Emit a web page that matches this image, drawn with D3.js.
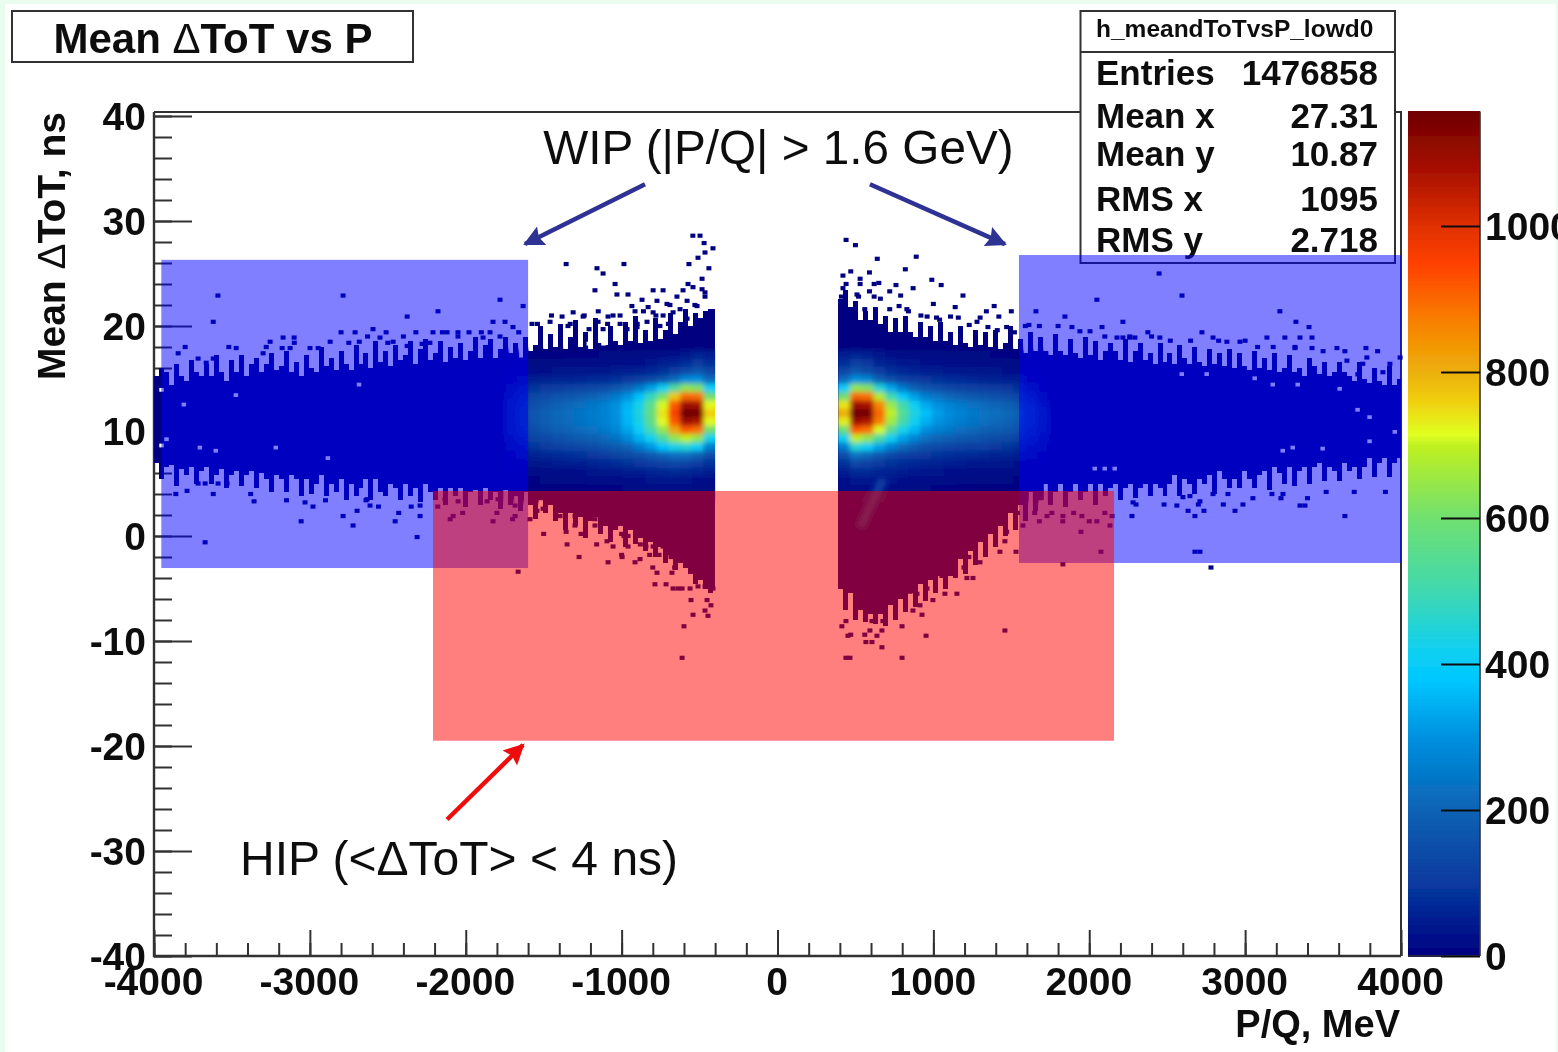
<!DOCTYPE html>
<html>
<head>
<meta charset="utf-8">
<title>Mean dToT vs P</title>
<script src="https://cdn.jsdelivr.net/npm/d3@7"></script>
<style>
  html, body { margin: 0; padding: 0; background: #e9fcf0; overflow: hidden; }
  text { font-family: "Liberation Sans", Arial, sans-serif; fill: #111; }
  .bold text, text.bold { font-weight: bold; }
  .domain { display: none; }
</style>
</head>
<body>
<svg id="chart" width="1558" height="1052"></svg>
<script>
// histogram binning, MeV and ns
const binWidthP = 32;
const binHeightT = 0.4;
const startNeg = -4000;
const startPos = 390;
const endNeg = -400;
const endPos = 4000;

// solid band per P bin: top and bottom edge in ns
const topNeg = [15.2,16,15.6,14.4,16.4,15.2,14.8,16.8,15.6,15.2,
  16.4,15.2,17.2,15.6,14.8,16.8,15.6,17.2,15.2,16.4,
  17,15.6,16.4,17.4,15.8,16.2,17.6,15.6,16.6,15.2,
  17.2,16,15.6,18,16.2,17,15.8,17.6,16.4,15.8,
  18.2,16.4,17.4,16,18.6,16.6,17.6,16.2,18.2,16.8,
  17.2,18.6,16.4,17.8,18.8,16.8,17.4,18.6,16.6,18,
  17,18.4,16.8,17.6,19,17,18.2,18.8,17,17.8,
  19,17.4,18.4,17,19,17.6,18.2,20,17.8,19.2,
  18,20.2,17.8,19,20.6,18,19.4,17.8,20.8,18.4,
  18.2,20,18.6,18.2,20.4,18.6,21,18.4,19.6,18.6,
  20.8,18.8,19.6,21.2,19.2,20.4,21.6,20,21.2,20.8,
  21.4,21.6,21.6];
const bottomNeg = [7,5.4,6.6,6.8,4.8,6.4,5.8,6.6,5,6.2,
  6.6,5,5.8,6.4,4.6,5.8,6.2,4.8,5.8,6.2,
  4.6,6,5.4,4.2,5.8,5.4,4.2,5.8,5.4,3.8,
  5.4,4,5,5.8,3.8,5,4.2,5.4,3.4,5,
  3.8,4.6,5.4,3.4,5.4,4.2,3.8,5,4.6,3.4,
  5,3.8,4.6,3.2,5,4.2,3.4,4.6,3,4.6,
  3.8,4.6,2.8,4.2,4.4,3,4.6,3.4,4.2,2.6,
  4.4,3,3.8,2.4,4.2,3,1.6,3.4,2.2,3,
  1.4,2.2,.6,2.2,1,1.8,-.2,1.4,1.8,.2,
  1,-.6,.6,1,-1,.6,-.8,-.2,-1.4,-.6,
  -2,-1,-2.6,-1.8,-3.2,-2.6,-3,-3.6,-4.6,-4.2,
  -5,-5.4,-5];
const topPos = [22.6,23.4,21.8,22.4,20.6,21.4,20.6,21.8,20.2,21,
  19.4,20.8,19.4,21,19.4,19,20.4,19,20,18.6,
  20.4,18.6,19.4,18.2,20,18.4,18,19.6,18.2,19.4,
  18,19.6,17.8,18.4,20,17.8,18.8,17.4,19.4,17.6,
  19,17.6,17.2,19.2,17.6,17.2,18.8,17.4,17,19,
  17.2,18.6,16.8,17.6,18.4,17.6,16.8,18.8,16.6,17.6,
  18.4,16.8,17.4,16.4,18.4,16.6,17.4,16.4,18.2,17,
  16.4,18,16.6,16.2,17.8,16.4,17.4,16.2,17.8,16,
  17.4,16.2,15.8,17.6,16,17,15.8,17.4,15.6,16,
  17.2,15.6,16,15.2,17,16.2,15.4,16.6,15.2,15.6,
  16.6,15.6,15.2,14.8,16.6,15,14.6,16,14.8,14.4,
  16.2,14.4,15];
const bottomPos = [-5,-7,-5.4,-8,-7,-8.2,-7.4,-8.4,-7.4,-8.6,
  -6.6,-8,-6,-7.2,-5.4,-6.8,-4.6,-6.2,-4.2,-5.4,
  -3.8,-5,-3.8,-4,-2.2,-3.6,-1.4,-2.8,-.6,-2,
  .2,-1,1,0,2.2,.6,3,1.4,4.2,2.4,
  3.4,5,3,4.2,5,2.8,4.2,5,3.4,4.2,
  5,3,5,3.8,4.6,5,3.4,4.6,5,3.6,
  4.6,5,3.8,5,4.6,3.8,5,5.8,3.8,5.4,
  5,4,5.4,5,5.8,4,6.2,5.4,4.6,5.4,
  4.6,6.2,5.4,4.6,5.8,6.2,4.4,6.6,6,5,
  6.6,4.8,6.2,6.6,5,6.6,7,5.2,6.6,6.2,
  5.2,7,6.2,6.6,5.4,6.6,7.4,5.6,7,7.4,
  5.6,7,7.4];

// bin contents near the peak, rows are ns, columns are P
const densityRows = [17.3,16.5,15.7,14.9,14.1,13.3,12.5,11.7,10.9,10.1,9.3,8.5,7.7,6.9,6.1,5.3,4.5,3.7];
const densityColsNeg = [-1750,-1675,-1600,-1525,-1450,-1375,-1300,-1225,-1150,-1075,-1000,-925,-850,-775,-700,-625,-550,-475];
const densityColsPos = [390,465,540,615,690,765,840,915,990,1065,1140,1215,1290,1365,1440,1515,1590,1665];
const densityNeg = [
  [5,5,8,8,8,10,10,10,12,12,14,16,20,24,30,40,60,50],
  [8,10,14,16,16,18,18,20,22,24,26,30,36,44,55,75,100,80],
  [14,20,28,30,32,34,36,38,40,44,50,56,66,82,110,140,170,130],
  [24,36,52,56,60,62,66,70,76,84,96,112,135,170,220,290,300,220],
  [40,64,90,100,110,116,124,132,145,170,205,250,320,410,530,640,620,400],
  [58,90,130,145,160,172,185,200,220,250,300,370,480,610,770,900,890,600],
  [72,110,155,175,195,212,228,245,265,295,350,430,560,710,920,1090,1080,720],
  [80,120,170,190,210,225,240,255,270,300,360,440,580,740,960,1160,1150,760],
  [78,118,168,188,208,222,238,252,268,296,355,435,565,720,920,1090,1070,720],
  [70,105,150,172,190,205,220,235,250,278,330,400,510,640,810,920,890,600],
  [56,85,124,140,155,168,182,196,212,238,285,345,420,520,640,700,640,420],
  [40,62,90,102,115,124,135,148,160,180,205,255,310,375,430,450,400,260],
  [26,40,58,66,74,80,88,96,106,120,135,155,180,205,230,230,200,150],
  [15,24,34,40,44,48,52,58,64,72,82,94,108,120,130,125,110,85],
  [8,14,18,22,24,26,30,32,36,40,46,52,60,66,70,66,60,50],
  [5,7,10,12,14,14,16,18,20,22,24,28,32,34,36,34,30,26],
  [2,3,5,6,6,7,8,8,9,10,12,14,16,16,18,16,15,12],
  [1,2,2,3,3,4,4,4,5,5,6,7,8,8,8,8,7,6]
];
const densityPos = [
  [50,60,50,35,28,22,20,18,16,14,14,12,12,10,10,9,8,4],
  [80,110,95,62,48,38,32,30,28,26,24,22,20,18,18,16,12,6],
  [130,170,145,105,84,68,58,52,46,42,38,36,34,32,30,28,18,10],
  [220,300,280,200,150,122,105,95,85,76,70,65,62,58,54,50,30,18],
  [400,640,620,450,330,250,200,165,148,132,122,114,108,102,95,84,50,28],
  [600,900,890,680,500,390,320,260,235,210,190,178,168,155,142,125,85,42],
  [740,1090,1080,860,650,510,415,335,300,270,250,232,218,205,190,168,115,60],
  [800,1160,1150,900,700,540,440,370,320,290,270,250,235,225,210,190,125,75],
  [730,1090,1070,870,660,515,420,345,305,280,260,240,228,215,205,180,122,72],
  [590,920,890,710,550,430,355,295,265,245,225,210,198,188,175,158,108,64],
  [420,700,640,520,410,325,275,225,205,190,175,165,155,145,135,122,84,50],
  [260,450,400,330,265,215,180,152,140,128,118,110,104,98,90,80,56,34],
  [150,235,210,170,140,118,105,95,88,80,74,70,64,60,56,50,34,20],
  [85,130,118,100,85,74,66,60,56,50,46,42,40,36,34,30,20,12],
  [50,75,70,62,56,48,42,38,34,30,28,26,24,22,20,18,12,6],
  [30,42,42,40,36,30,26,22,20,18,16,14,14,12,12,10,6,4],
  [18,22,26,26,22,18,14,12,10,10,8,8,7,6,6,5,3,2],
  [10,14,20,20,14,10,8,6,6,5,5,4,4,3,3,3,2,1]
];

// faint diagonal streak under the red box, [P, ns]
const streakPoints = [[530,0.8],[600,3],[680,5.5]];
const streakCount = 120;

// single filled bins away from the band, [P, ns]
const straysNeg = [[-3590,22.9],[-2787,22.9],[-3620,20.4],[-2376,20.9],[-2178,21.4],[-1780,22.5],[-1632,21.9],[-1825,20.4],[-1748,20.4],[-1697,19.9],
  [-2710,19.4],[-2595,19.7],[-2511,19.4],[-2210,19.4],[-2120,19.4],[-2050,19.4],[-1979,19.4],[-1844,19.4],[-3172,18.9],[-3101,18.9],
  [-2870,18.5],[-2683,18.5],[-2550,18.9],[-3255,18.5],[-3473,17.9],[-3178,17.9],[-3127,17.9],[-3845,17.4],[-3717,16.9],[-3620,16.9],
  [-3665,16.5],[-3300,17.4],[-2999,17.9],[-2947,17.9],[-2466,18.5],[-2376,18.1],[-2280,18.3],[-1889,18.9],
  [-3672,-0.6],[-2312,-0.1],[-3056,1.4],[-2723,1.0],[-2787,1.9],[-2697,2.4],[-2453,1.4],[-2293,1.9],[-2293,2.9],[-2633,3.5],[-2614,2.9],
  [-3031,3.2],[-3358,3.3],[-3788,4.3],[-3717,5],[-3672,5],[-3589,5],[-3531,5],[-2081,1.9],[-1825,1.4],[-1684,1.9],[-1664,-3.4],
  [-2049,3.3],[-1863,3.3],[-1793,3.5],[-2133,3.5],[-1684,2.9],
  [-543,28.6],[-497,28.6],[-471,27.9],[-414,27.4],[-465,27],[-510,26.5],[-568,25.9],[-440,25.5],[-1356,25.9],[-1158,25.5],
  [-1119,25],[-985,25.9],[-1042,24],[-1171,23.4],[-1030,23],[-959,23],[-798,23.4],[-734,23.4],[-869,22.5],[-934,21.9],[-914,21.4],
  [-606,23.4],[-574,24],[-542,23.7],[-484,24.5],[-484,23.5],[-465,23.2],[-773,22.4],[-709,22.1],[-645,22.8],[-580,22.4],[-516,21.9],
  [-625,21.6],[-465,22.8],[-830,21.8],[-798,21.3],[-734,21],[-670,21.3],[-580,20.7],[-497,20.4],
  [-1575,20.2],[-1459,20.4],[-1382,20.9],[-1311,21.3],[-1247,20.9],[-1344,20],[-1151,20.4],[-1087,20.9],[-1055,21],[-1010,20.2],
  [-1209,19.7],[-1119,19.7],[-965,19.7],[-901,19.9],[-837,20.4],[-754,20],
  [-1273,-2],[-1087,-2.5],[-997,-2],[-914,-2.5],[-882,-2.2],[-773,-3.5],[-677,-3.5],[-786,-4.6],[-715,-4.6],[-670,-5],[-638,-5],
  [-612,-5],[-561,-5],[-510,-4.8],[-465,-4.8],[-414,-5],[-555,-6.1],[-452,-6.1],[-427,-6.6],[-465,-7.1],[-446,-7.6],[-542,-7.5],
  [-600,-8.6],[-612,-11.6],[-1356,.4],[-1299,1],[-1171,1],[-1094,-.5],[-1055,-1],[-985,0],[-959,0],[-959,-1],[-844,-1],[-798,-1],
  [-734,-1],[-690,-.6],[-625,-1.5],[-683,-2],[-1588,1.6],[-1543,2.4],[-1504,2.6],[-1395,1.9],[-1299,1.9],[-1171,1.6],[-1119,2.1],
  [-1055,1.6],[-991,1.9],[-914,1.8],[-837,1.1],[-798,.4],[-754,.5]];
const straysPos = [[413,-8.6],[439,-8.1],[452,-9.5],[439,-11.6],[465,-11.6],[567,-10.1],[606,-10.1],[638,-9.5],[670,-9],[593,-9],
  [606,-8.1],[670,-10.6],[676,-8.1],[799,-8.6],[799,-11.6],[953,-9.5],[1459,-9],[927,-7.5],[869,-7.1],[914,-6.6],[997,-6.1],
  [1074,-5.5],[1151,-5.5],[1215,-4],[1254,-4],[1196,-3],[1299,-2.5],[1126,-2],[1228,-2],[1427,-1.5],[1530,-1.5],[1312,1],[1459,-.5],
  [1234,3.5],[1299,3.8],[1408,2.9],[1491,3.5],[959,-1.4],[997,-1.5],[1062,-1.9],[946,-4.1],[997,-3.9],[1055,-3.8],[850,-5.3],
  [895,-5.5],[959,-5],[1126,.7],[1171,0],[1222,-.3],
  [1575,1],[1947,.4],[2133,1],[2075,-1.5],[1831,-2.7],[1729,1.9],[1831,1.9],[1953,1.9],[2049,1.4],[2146,1.9],[2274,1.9],[2281,3.2],
  [2562,2.9],[2634,2.4],[2678,1.9],[2736,2.4],[2935,2.4],[2986,3],[3352,2.9],[3384,2.9],[3640,1.9],[2678,-1.5],[2710,-1.5],[2781,-3],
  [2601,3.7],[2646,3.8],[2710,3.3],[2794,4],[2890,4],[3172,4],[3243,4],
  [2448,25],[2595,22.9],[2049,22.5],[3223,21.4],[1658,21.4],[1844,20.9],[2216,20.4],[3326,20.4],[3410,19.9],[2082,19.9],[1613,20.1],
  [1889,19.9],[1940,19.5],[2005,19.5],[2376,19.4],[2723,19.4],[2178,18.9],[2216,18.9],[2261,18.9],[2293,18.9],[2453,18.9],[2794,18.9],
  [3140,18.9],[3255,18.9],[3352,18.9],[3429,18.9],[2967,18.5],[2883,18.5],[3589,17.9],[3775,17.9],[3429,17.9],[3320,17.9],[3781,17],
  [3994,17],[3653,16.7],[3755,16.4],[3929,16.4],[3884,15.6],[3723,15.4],
  [440,28.2],[500,27.7],[640,26.4],[890,26.6],[820,25.4],[990,24.4],[1050,23.9],[420,24.8],[470,25.2],[530,24.5],[590,25.1],[650,24.1],
  [760,23.9],[790,22.9],[870,23.6],[1000,22.1],[1140,21.8],[1190,22.9],[1340,21.4],[1390,21.9],[1420,20.9],[1500,21.4],[720,23.3],
  [420,23.6],[510,23],[590,23.3],[660,22.6],[780,21.9],[840,21.4],[920,21],[960,20.9],[1040,20.6],[1110,20.9],[1230,20.1],[1280,20.4],
  [1350,19.9],[1410,19.6],[1470,19.9],[1520,19.4]];

// more lone bins just off the band edges, by row, [ns, [P...]]
const fringeRows = [
  [18,[-3800,-3520,-3280]],[18.4,[-3100,-2750,-2500,-2230]],[19,[-2630,-2400,-2050,-1780]],[19.4,[-2800,-2320,-2150,-1900,-1660]],
  [20.2,[-1540,-1330,-1090,-900,-700]],[21,[-1450,-1240,-1010,-780]],[21.4,[-1150,-860]],[22,[-690,-530]],
  [4,[-3860,-3620,-3380]],[3.4,[-3150,-2900,-2640]],[2.8,[-2980,-2560,-2350,-2180]],[2.2,[-2430,-2020,-1800]],[1.6,[-2100,-1700]],
  [.2,[-1500,-1260,-1000]],[-.8,[-1350,-1160,-880]],[-1.8,[-1000,-820,-760]],[-3,[-800,-660]],
  [-9.4,[470,560]],[-3.2,[1100,1010]],[-1.6,[1120,1180]],[.4,[1250,1380,1470]],[2.2,[1540,1650,1760,1900,2100]],[1.4,[1390,1680,1830,2000]],
  [3,[2300,2480,2700,2860]],[3.6,[3050,3230,3400]],[4.2,[3520,3700,3900]],
  [20,[1590,1680,1800]],[19,[2100,2260,2400]],[18.6,[2520,2650,2830,3000]],[18,[3080,3180,3320]],[17.6,[3500,3640,3850]],
  [21.6,[440,560,720,830]],[20.8,[1020,1160,1300]],[22.8,[410,520,620]],[24,[440,530,620]]
];

// empty bins inside the band, [P, ns]
const holes = [[-1209,18.3],[-1115,18.3],[-1504,5],[-1480,4.4],[1375,4.9],[1472,4.9],[1536,4.9],
  [-2683,14.4],[-3473,13.4],[-3807,12.5],[-3217,8.4],[-3704,8.4],[-2883,7.4],[-3602,8.1],
  [2595,15.4],[2755,15.4],[3063,15],[3179,14.4],[3339,14.4],[3608,14],[3723,12],[3800,11.3],[3962,9.9],[3800,9],
  [3243,8.1],[3307,8.4],[3499,8.3],[2037,6.4],[2101,6.4],[2165,6.4],
  [-3950,13.9],[-3950,8.6],[-3918,9.2]];

// highlighted boxes in data coordinates
const boxLeft = [-3953,-1600,-3.05,26.3];
const boxRight = [1549,4000,-2.57,26.76];
const boxHip = [-2210,2159,-19.5,4.29];

// arrows, [P, ns] from tail to head
const wipArrowLeft = [[-850,33.5],[-1620,27.8]];
const wipArrowRight = [[593,33.5],[1459,27.8]];
const hipArrow = [[-2120,-27],[-1632,-19.9]];

// axis ticks
const xMajor = [-4000,-3000,-2000,-1000,0,1000,2000,3000,4000];
const xMinor = d3.range(-4000,4001,200);
const yMajor = [-40,-30,-20,-10,0,10,20,30,40];
const yMinor = d3.range(-40,41,2);

// colour bar
const cbarValues = [0,100,200,300,380,420,500,600,700,715,760,800,870,950,1000,1077,1157];
const cbarColors = ["#000080","#073a9f","#0a62b4","#0090df","#00c8ff","#10d0f0","#40d8b0","#70e070","#c0f020","#e0ff20","#f0d010","#ecb00a","#f88000","#ff4000","#e03000","#a81000","#700000"];
const cbarTicks = [0,200,400,600,800,1000];

// stats box
const statNames = ["Entries","Mean x","Mean y","RMS x","RMS y"];
const statValues = ["1476858","27.31","10.87","1095","2.718"];
const statBaselines = [85,128,166,211,252];

const svg = d3.select("#chart");
const defs = svg.append("defs");
const width = 1558, height = 1052;

const soft = defs.append("filter").attr("id","soft").attr("filterUnits","userSpaceOnUse")
  .attr("x",0).attr("y",0).attr("width",width).attr("height",height);
soft.append("feGaussianBlur").attr("stdDeviation",0.65);
defs.append("filter").attr("id","peakBlur").attr("filterUnits","userSpaceOnUse")
  .attr("x",0).attr("y",0).attr("width",width).attr("height",height)
  .append("feGaussianBlur").attr("stdDeviation",2.6);
defs.append("filter").attr("id","streakBlur").attr("filterUnits","userSpaceOnUse")
  .attr("x",0).attr("y",0).attr("width",width).attr("height",height)
  .append("feGaussianBlur").attr("stdDeviation",3);

const x = d3.scaleLinear().domain([-4000,4000]).range([154,1401]);
const y = d3.scaleLinear().domain([-40,40]).range([956,116]);
const cbarY = d3.scaleLinear().domain([0,1000]).range([956,226]);
const colorScale = d3.scaleLinear().domain(cbarValues).range(cbarColors);

const root = svg.append("g").attr("filter","url(#soft)");

// page background
root.append("rect").attr("x",5).attr("y",4).attr("width",1551).attr("height",1048).attr("fill","#fff");

// axes and frame
const axisColor = "#333";
root.append("path").attr("d",`M${x(-4000)},${y(40)-4}H${x(4000)}V${y(-40)}`).attr("fill","none").attr("stroke",axisColor).attr("stroke-width",2);
root.append("path").attr("d",`M${x(-4000)},${y(40)-4}V${y(-40)}H${x(4000)}`).attr("fill","none").attr("stroke",axisColor).attr("stroke-width",2.4);

const plainLabel = d => String(d);
const yMinorAxis = root.append("g").attr("transform",`translate(${x(-4000)},0)`)
  .call(d3.axisLeft(y).tickValues(yMinor).tickSize(-18).tickFormat(""));
const xMinorAxis = root.append("g").attr("transform",`translate(0,${y(-40)})`)
  .call(d3.axisBottom(x).tickValues(xMinor).tickSize(-13).tickFormat(""));
const yMajorAxis = root.append("g").attr("class","bold").attr("transform",`translate(${x(-4000)},0)`)
  .call(d3.axisLeft(y).tickValues(yMajor).tickSize(-38).tickPadding(8).tickFormat(plainLabel));
const xMajorAxis = root.append("g").attr("class","bold").attr("transform",`translate(0,${y(-40)})`)
  .call(d3.axisBottom(x).tickValues(xMajor).tickSize(-26).tickPadding(11).tickFormat(plainLabel));
[yMinorAxis,xMinorAxis,yMajorAxis,xMajorAxis].forEach(function(a) {
  a.selectAll("line").attr("stroke",axisColor).attr("stroke-width",2);
  a.selectAll("text").attr("font-size",39).attr("font-family",null).style("fill","#111");
});
yMajorAxis.selectAll("text").attr("dy","0.34em");
xMajorAxis.selectAll("text").attr("dx",-1);

// histogram band, one rect per P bin
function bandRects(parent, start, end, tops, bottoms) {
  parent.append("g").selectAll("rect").data(tops).enter().append("rect")
    .attr("x",(d,i) => x(start + i*binWidthP))
    .attr("width",(d,i) => x(Math.min(start + (i+1)*binWidthP, end)) - x(start + i*binWidthP))
    .attr("y",d => y(d))
    .attr("height",(d,i) => y(bottoms[i])-y(d))
    .attr("fill","#000080")
    .attr("shape-rendering","crispEdges");
}
bandRects(root,startNeg,endNeg,topNeg,bottomNeg);
bandRects(root,startPos,endPos,topPos,bottomPos);

const cellW = x(binWidthP)-x(0), cellH = y(0)-y(binHeightT);
const fringeCells = [];
fringeRows.forEach(function(row) {
  row[1].forEach(function(p) { fringeCells.push([p,row[0]]); });
});
root.append("g").selectAll("rect").data(straysNeg.concat(straysPos,fringeCells)).enter().append("rect")
  .attr("x",d => x(d[0])-cellW/2).attr("y",d => y(d[1])-cellH/2)
  .attr("width",cellW).attr("height",cellH).attr("fill","#000080");
root.append("g").selectAll("rect").data(holes).enter().append("rect")
  .attr("x",d => x(d[0])-cellW/2).attr("y",d => y(d[1])-cellH/2)
  .attr("width",cellW*0.9).attr("height",cellH*0.9).attr("fill","#fff");

// bright core, blurred like the source image and clipped to the band
const clip = defs.append("clipPath").attr("id","coreClip");
function clipRects(start, end, tops, bottoms) {
  tops.forEach(function(t, i) {
    const right = Math.min(start + (i+1)*binWidthP, end);
    clip.append("rect")
      .attr("x",x(start + i*binWidthP))
      .attr("width",x(right) - x(start + i*binWidthP) + (right < end ? 1 : 0))
      .attr("y",y(t)).attr("height",y(bottoms[i])-y(t));
  });
}
clipRects(startNeg,endNeg,topNeg,bottomNeg);
clipRects(startPos,endPos,topPos,bottomPos);
const core = root.append("g").attr("clip-path","url(#coreClip)").append("g").attr("filter","url(#peakBlur)");
function drawDensity(cols, matrix) {
  const stepP = cols[1]-cols[0], stepT = densityRows[0]-densityRows[1];
  matrix.forEach(function(row, r) {
    core.append("g").selectAll("rect").data(row).enter().append("rect")
      .attr("x",(d,c) => x(cols[c]))
      .attr("y",y(densityRows[r]+stepT/2))
      .attr("width",x(stepP)-x(0)+0.5)
      .attr("height",y(0)-y(stepT)+0.5)
      .attr("fill",d => colorScale(d));
  });
}
// run the end columns past the clip so the blur does not fade at the cut
drawDensity(densityColsNeg,densityNeg);
drawDensity(densityColsPos,densityPos);
core.append("g").selectAll("rect").data(densityNeg).enter().append("rect")
  .attr("x",x(endNeg)).attr("width",x(60)-x(0))
  .attr("y",(d,r) => y(densityRows[r]+0.4)).attr("height",y(0)-y(0.8)+0.5)
  .attr("fill",d => colorScale(d[17]));
core.append("g").selectAll("rect").data(densityPos).enter().append("rect")
  .attr("x",x(startPos-60)).attr("width",x(60)-x(0))
  .attr("y",(d,r) => y(densityRows[r]+0.4)).attr("height",y(0)-y(0.8)+0.5)
  .attr("fill",d => colorScale(d[0]));

root.append("path").datum(streakPoints)
  .attr("d",d3.line().x(d => x(d[0])).y(d => y(d[1])))
  .attr("fill","none").attr("stroke",colorScale(streakCount)).attr("stroke-width",9)
  .attr("filter","url(#streakBlur)");

// colour bar
const cbarStep = 1;
root.append("g").selectAll("rect").data(d3.range(0,1157,cbarStep)).enter().append("rect")
  .attr("x",1408).attr("width",72)
  .attr("y",d => cbarY(d+cbarStep)).attr("height",cbarY(0)-cbarY(cbarStep)+1)
  .attr("fill",d => colorScale(d))
  .attr("shape-rendering","crispEdges");
root.append("line").attr("x1",1480).attr("x2",1480).attr("y1",cbarY(1157)).attr("y2",956).attr("stroke",axisColor).attr("stroke-width",1.6);
root.append("line").attr("x1",1408).attr("x2",1480).attr("y1",956).attr("y2",956).attr("stroke",axisColor).attr("stroke-width",1.6);
const cbarAxis = root.append("g").attr("class","bold").attr("transform","translate(1480,0)")
  .call(d3.axisRight(cbarY).tickValues(cbarTicks).tickSize(-39).tickPadding(5).tickFormat(plainLabel));
cbarAxis.selectAll("line").attr("stroke","#111").attr("stroke-width",2);
cbarAxis.selectAll("text").attr("font-size",39).attr("font-family",null).style("fill","#111").attr("dy","0.34em");

// title box
root.append("rect").attr("x",12).attr("y",11).attr("width",401).attr("height",51).attr("fill","#fff").attr("stroke",axisColor).attr("stroke-width",2);
const title = root.append("text").attr("class","bold").attr("x",213).attr("y",53).attr("text-anchor","middle").attr("font-size",42);
title.append("tspan").text("Mean ");
title.append("tspan").attr("font-weight","normal").text("\u0394");
title.append("tspan").text("ToT vs P");

// stats box
root.append("rect").attr("x",1080.5).attr("y",11).attr("width",314.5).attr("height",252).attr("fill","#fff").attr("stroke",axisColor).attr("stroke-width",2);
root.append("line").attr("x1",1080).attr("x2",1395).attr("y1",52).attr("y2",52).attr("stroke",axisColor).attr("stroke-width",2);
root.append("text").attr("class","bold").attr("x",1096).attr("y",37).attr("font-size",24.5).text("h_meandToTvsP_lowd0");
root.append("g").selectAll("text").data(statNames).enter().append("text").attr("class","bold")
  .attr("x",1096).attr("y",(d,i) => statBaselines[i]).attr("font-size",35).text(d => d);
root.append("g").selectAll("text").data(statValues).enter().append("text").attr("class","bold")
  .attr("x",1378).attr("y",(d,i) => statBaselines[i]).attr("text-anchor","end").attr("font-size",35).text(d => d);

// axis titles
const yTitle = root.append("text").attr("class","bold").attr("transform","translate(65,380) rotate(-90)").attr("font-size",39);
yTitle.append("tspan").text("Mean ");
yTitle.append("tspan").attr("font-weight","normal").text("\u0394");
yTitle.append("tspan").text("ToT, ns");
root.append("text").attr("class","bold").attr("x",1400).attr("y",1037).attr("text-anchor","end").attr("font-size",38).text("P/Q, MeV");

// highlight boxes
function drawBox(b, color) {
  root.append("rect").attr("x",x(b[0])).attr("width",x(b[1])-x(b[0]))
    .attr("y",y(b[3])).attr("height",y(b[2])-y(b[3]))
    .attr("fill",color).attr("fill-opacity",0.5);
}
drawBox(boxLeft,"#0000ff");
drawBox(boxRight,"#0000ff");
drawBox(boxHip,"#ff0000");

// arrows
function drawArrow(a, color, id) {
  defs.append("marker").attr("id",id).attr("viewBox","0 0 10 10").attr("refX",9).attr("refY",5)
    .attr("markerWidth",5).attr("markerHeight",4.6).attr("orient","auto")
    .append("path").attr("d","M0,0L10,5L0,10L1.5,5Z").attr("fill",color);
  root.append("line").attr("x1",x(a[0][0])).attr("y1",y(a[0][1])).attr("x2",x(a[1][0])).attr("y2",y(a[1][1]))
    .attr("stroke",color).attr("stroke-width",4.5).attr("marker-end",`url(#${id})`);
}
drawArrow(wipArrowLeft,"#2e3192","wipL");
drawArrow(wipArrowRight,"#2e3192","wipR");
drawArrow(hipArrow,"#ee1111","hip");

// annotations
root.append("text").attr("x",x(6)).attr("y",y(35.4)).attr("text-anchor","middle").attr("font-size",47.7).text("WIP (|P/Q| > 1.6 GeV)");
root.append("text").attr("x",x(-2043)).attr("y",y(-32.3)).attr("text-anchor","middle").attr("font-size",48).text("HIP (<\u0394ToT> < 4 ns)");
</script>
</body>
</html>
